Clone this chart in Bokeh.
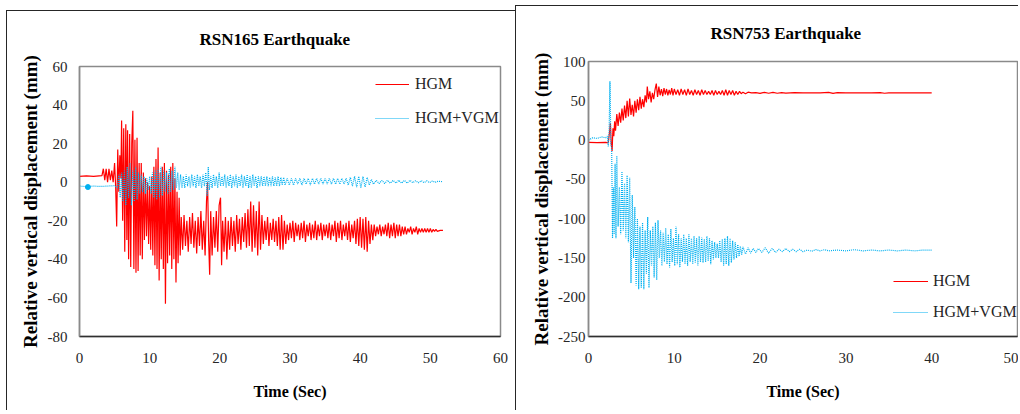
from bokeh.plotting import figure
from bokeh.layouts import row
from bokeh.models import FixedTicker, Legend, LegendItem, PrintfTickFormatter
from bokeh.embed import file_html
from bokeh.resources import INLINE

FONT = "Liberation Serif"
RED = "#ff0000"
BLUE = "#00b0f0"

titles = ["RSN165 Earthquake", "RSN753 Earthquake"]
series_names = ["HGM", "HGM+VGM"]
x_title = "Time (Sec)"
y_title = "Relative vertical displacement (mm)"

x_ticks_165 = [0, 10, 20, 30, 40, 50, 60]
y_ticks_165 = [-80, -60, -40, -20, 0, 20, 40, 60]
x_ticks_753 = [0, 10, 20, 30, 40, 50]
y_ticks_753 = [-250, -200, -150, -100, -50, 0, 50, 100]

# RSN165 - HGM (time s, displacement mm)
rsn165_hgm = [
    (0, 3.0), (1, 3.3), (2, 3.0), (3.2, 3.4),
    (3.4, 7), (3.6, 1), (3.8, 7), (4.0, 0), (4.2, 7), (4.4, 1), (4.6, 6), (4.8, 0), (5.0, 10),
    (5.15, -2), (5.3, -23), (5.45, 17), (5.6, -5), (5.75, 14), (5.9, 2),
    (6.0, 32), (6.15, -20), (6.3, 28), (6.45, -36), (6.6, 30), (6.75, -30), (6.85, 27), (7.0, -40),
    (7.15, 25), (7.3, -44), (7.45, 20), (7.6, 37), (7.75, -45), (7.9, 22), (8.05, -47), (8.2, 23),
    (8.35, -46), (8.5, 10), (8.65, -38), (8.8, 10), (8.95, -40),
    (9.1, 5), (9.25, -30), (9.4, 2), (9.55, -28), (9.7, 0), (9.85, -32), (10.0, -2), (10.15, -35),
    (10.3, 3), (10.45, -38), (10.6, 8), (10.75, -43), (10.9, 12), (11.05, -45), (11.2, 18),
    (11.35, -51), (11.5, 5), (11.65, -40), (11.8, 8), (11.95, -45),
    (12.1, 10), (12.25, -63), (12.4, 6), (12.55, -42), (12.7, 4), (12.85, -38), (13.0, 8),
    (13.15, -45), (13.3, 10), (13.45, -40), (13.6, 2), (13.75, -52), (13.9, -5), (14.05, -42),
    (14.2, -8), (14.35, -38),
    (14.5, -18), (14.7, -35), (14.9, -17), (15.1, -33), (15.3, -20), (15.5, -36), (15.7, -18),
    (15.9, -32), (16.1, -16), (16.3, -34), (16.5, -20), (16.7, -37), (16.9, -18), (17.1, -33),
    (17.3, -15), (17.5, -35), (17.7, -20), (17.9, -38), (18.1, -10), (18.25, 0), (18.4, -30),
    (18.55, -48), (18.7, -15), (18.9, -38), (19.1, -18), (19.3, -34), (19.5, -15), (19.7, -36),
    (19.9, -12), (20.1, -8), (20.25, -43), (20.4, -20), (20.6, -36), (20.8, -18), (21.0, -40),
    (21.2, -20), (21.4, -35), (21.6, -18), (21.8, -33), (22.0, -20), (22.2, -36), (22.4, -17),
    (22.6, -32), (22.8, -19), (23.0, -35), (23.2, -18), (23.4, -31), (23.6, -16), (23.8, -34),
    (24.0, -14), (24.2, -33), (24.4, -10), (24.6, -36), (24.8, -12), (25.0, -34), (25.2, -15),
    (25.4, -38), (25.6, -10), (25.8, -35), (26.0, -17), (26.2, -32), (26.4, -20), (26.6, -30),
    (26.8, -18), (27.0, -33), (27.2, -21), (27.4, -30), (27.6, -19), (27.8, -31), (28.0, -20),
    (28.2, -33), (28.4, -18), (28.6, -35), (28.8, -17), (29.0, -35), (29.2, -20), (29.4, -32),
    (29.6, -22), (29.8, -30), (30.0, -21), (30.2, -29), (30.4, -20), (30.6, -31), (30.8, -21),
    (31.0, -28), (31.2, -22), (31.4, -30), (31.6, -21), (31.8, -29), (32.0, -20), (32.2, -31),
    (32.4, -22), (32.6, -28), (32.8, -21), (33.0, -30), (33.2, -22), (33.4, -29), (33.6, -20),
    (33.8, -30), (34.0, -22), (34.2, -28), (34.4, -21), (34.6, -30), (34.8, -22), (35.0, -28),
    (35.2, -22), (35.4, -29), (35.6, -21), (35.8, -30), (36.0, -22), (36.2, -28), (36.4, -20),
    (36.6, -31), (36.8, -21), (37.0, -29), (37.2, -20), (37.4, -30), (37.6, -22), (37.8, -28),
    (38.0, -21), (38.2, -30), (38.4, -20), (38.6, -31), (38.8, -22), (39.0, -29), (39.2, -20),
    (39.4, -32), (39.6, -19), (39.8, -33), (40.0, -18), (40.2, -34), (40.4, -19), (40.6, -35),
    (40.8, -18), (41.0, -36), (41.2, -20), (41.4, -32), (41.6, -22), (41.8, -30), (42.0, -22),
    (42.2, -28), (42.4, -23), (42.6, -27), (42.8, -22), (43.0, -28), (43.2, -23), (43.4, -27),
    (43.6, -22), (43.8, -28), (44.0, -21), (44.2, -29), (44.4, -22), (44.6, -28), (44.8, -21),
    (45.0, -29), (45.2, -22), (45.4, -28), (45.6, -22), (45.8, -28), (46.0, -23), (46.2, -27),
    (46.4, -23), (46.6, -27), (46.8, -24), (47.0, -26), (47.2, -23), (47.4, -27), (47.6, -24),
    (47.8, -26), (48.0, -23), (48.2, -27), (48.4, -24), (48.6, -26), (48.8, -24), (49.0, -26),
    (49.2, -24), (49.4, -26), (49.6, -24), (49.8, -26), (50.0, -24), (50.2, -26), (50.4, -24.5),
    (50.6, -25.5), (50.8, -24.5), (51.0, -25.5), (51.4, -25), (51.8, -25),
]

# RSN165 - HGM+VGM
rsn165_hgm_vgm = [
    (0, -2.0), (1, -2.3), (2, -2.0), (3, -2.2), (4, -2.0), (5, -1.8),
    (5.4, -3), (5.6, 4), (5.8, -8), (6.0, 5), (6.2, -10), (6.4, 6), (6.6, -12), (6.8, 8),
    (7.0, -8), (7.2, 10), (7.4, -12), (7.6, 6), (7.8, -10), (8.0, 8), (8.2, -9), (8.4, 5),
    (8.6, -6), (8.8, 4), (9.0, -5), (9.2, 3), (9.4, -6), (9.6, 2), (9.8, -4), (10.0, 3),
    (10.2, -6), (10.4, 5), (10.6, -8), (10.8, 6), (11.0, -9), (11.2, 7), (11.4, -8), (11.6, 8),
    (11.8, -7), (12.0, 6), (12.2, -5), (12.4, 5), (12.6, -6), (12.8, 7), (13.0, -5), (13.2, 6),
    (13.4, -4), (13.6, 8), (13.8, -3), (14.0, 5), (14.2, -4), (14.4, 4), (14.6, -3), (14.8, 3),
    (15.0, -3), (15.2, 4), (15.4, -2), (15.6, 3), (15.8, -3), (16.0, 4), (16.2, -2), (16.4, 3),
    (16.6, -3), (16.8, 4), (17.0, -2), (17.2, 3), (17.4, -3), (17.6, 4), (17.8, -2), (18.0, 5),
    (18.2, -7), (18.35, 8), (18.5, -4), (18.7, 3), (18.9, -3), (19.1, 4), (19.3, -2), (19.5, 3),
    (19.7, -3), (19.9, 5), (20.1, -2), (20.3, 3), (20.5, -2), (20.7, 4), (20.9, -3), (21.1, 3),
    (21.3, -2), (21.5, 4), (21.7, -3), (21.9, 3), (22.1, -2), (22.3, 4), (22.5, -3), (22.7, 3),
    (22.9, -2), (23.1, 4), (23.3, -3), (23.5, 3), (23.7, -2), (23.9, 4), (24.1, -3), (24.3, 3),
    (24.5, -3), (24.7, 4), (24.9, -2), (25.1, 3), (25.3, -3), (25.5, 3), (25.7, -2), (25.9, 3),
    (26.1, -2), (26.3, 3), (26.5, -2), (26.7, 3), (26.9, -2), (27.1, 2.5), (27.3, -2), (27.5, 3),
    (27.7, -2), (27.9, 2.5), (28.1, -2), (28.3, 3), (28.5, -2), (28.7, 2.5), (28.9, -1.5),
    (29.1, 2.5), (29.3, -1.5), (29.6, 2), (29.9, -1.5), (30.2, 2), (30.5, -1.5), (30.8, 2),
    (31.1, -1), (31.4, 2), (31.7, -1.5), (32.0, 2), (32.3, -1), (32.6, 2), (32.9, -1.5),
    (33.2, 2), (33.5, -1), (33.8, 2), (34.1, -1), (34.4, 2), (34.7, -1), (35.0, 2), (35.3, -1),
    (35.6, 2), (35.9, -1), (36.2, 2), (36.5, -1), (36.8, 2), (37.1, -1), (37.4, 2), (37.7, -1),
    (38.0, 2), (38.3, -1.5), (38.6, 2.5), (38.9, -2), (39.2, 3), (39.5, -2.5), (39.8, 3),
    (40.1, -3), (40.4, 3), (40.7, -2.5), (41.0, 2.5), (41.3, -1.5), (41.6, 1.5), (41.9, -1),
    (42.3, 1), (42.7, -0.7), (43.1, 1), (43.5, -0.7), (43.9, 1), (44.3, -0.5), (44.7, 1),
    (45.1, -0.5), (45.5, 1), (45.9, -0.5), (46.3, 1), (46.7, -0.5), (47.1, 1), (47.5, -0.3),
    (47.9, 0.8), (48.3, -0.3), (48.7, 0.8), (49.1, -0.2), (49.5, 0.7), (49.9, -0.2),
    (50.3, 0.6), (50.7, 0), (51.1, 0.5), (51.8, 0.3),
]

rsn165_start_marker = [(1.2, -2.5)]

# RSN753 - HGM
rsn753_hgm = [
    (0, -3.0), (1, -3.2), (2, -3.0), (2.3, -3.5), (2.45, 10), (2.55, 22), (2.65, -5),
    (2.75, -14), (2.85, 15), (2.95, 5), (3.05, 24), (3.15, 12), (3.3, 33), (3.45, 18),
    (3.6, 35), (3.75, 22), (3.9, 40), (4.05, 25), (4.2, 44), (4.35, 28), (4.5, 50), (4.65, 30),
    (4.8, 53), (4.95, 32), (5.1, 45), (5.25, 30), (5.4, 50), (5.55, 35), (5.7, 52), (5.85, 38),
    (6.0, 55), (6.15, 40), (6.3, 52), (6.45, 42), (6.6, 57), (6.75, 48), (6.85, 68), (7.0, 52),
    (7.15, 62), (7.3, 48), (7.45, 60), (7.6, 52), (7.75, 64), (7.9, 72), (8.05, 55), (8.2, 68),
    (8.35, 57), (8.5, 65), (8.65, 56), (8.8, 66), (8.95, 58), (9.1, 65), (9.25, 57), (9.4, 64),
    (9.55, 58), (9.7, 66), (9.85, 57), (10.0, 65), (10.2, 58), (10.4, 64), (10.6, 57),
    (10.8, 65), (11.0, 58), (11.2, 64), (11.4, 57), (11.6, 65), (11.8, 58), (12.0, 63),
    (12.2, 57), (12.4, 64), (12.6, 58), (12.8, 63), (13.0, 57), (13.2, 64), (13.4, 58),
    (13.6, 63), (13.8, 58), (14.0, 62), (14.2, 58), (14.4, 63), (14.6, 57), (14.8, 63),
    (15.0, 58), (15.2, 62), (15.4, 58), (15.6, 63), (15.8, 57), (16.0, 64), (16.2, 57),
    (16.4, 63), (16.6, 58), (16.8, 63), (17.0, 57), (17.2, 62), (17.4, 58), (17.6, 62),
    (17.8, 59), (18.0, 61), (18.3, 59), (18.6, 61), (19.0, 60), (19.5, 60.5), (20.0, 59.5),
    (20.5, 60.8), (21.0, 59.6), (21.5, 60.6), (22.0, 59.6), (22.5, 60.5), (23.0, 59.7),
    (24.0, 60.3), (25.0, 60), (27.0, 60), (28.0, 60.6), (28.5, 59.5), (29.0, 60.4), (30.0, 60),
    (33.0, 60), (34.0, 60.5), (34.5, 59.6), (35.0, 60), (40.0, 60),
]

# RSN753 - HGM+VGM
rsn753_hgm_vgm = [
    (0, 0), (0.5, 3), (1.0, 2), (1.5, 4), (2.0, 3), (2.2, 5), (2.3, -8), (2.4, 10), (2.5, 75),
    (2.6, -5), (2.7, -10), (2.8, -125), (2.9, -60), (3.0, -120), (3.1, -30), (3.2, -125),
    (3.3, -20), (3.45, -110), (3.6, -60), (3.75, -120), (3.9, -40), (4.05, -115), (4.2, -55),
    (4.35, -125), (4.5, -45), (4.65, -130), (4.8, -48), (4.95, -182), (5.1, -70), (5.25, -150),
    (5.4, -85), (5.55, -185), (5.7, -100), (5.85, -190), (6.0, -110), (6.15, -188), (6.3, -105),
    (6.45, -190), (6.6, -115), (6.75, -170), (6.9, -98), (7.05, -188), (7.2, -115), (7.35, -160),
    (7.5, -110), (7.65, -175), (7.8, -105), (7.95, -178), (8.1, -102), (8.25, -150), (8.4, -115),
    (8.55, -160), (8.7, -118), (8.85, -155), (9.0, -112), (9.15, -158), (9.3, -120),
    (9.45, -162), (9.6, -113), (9.75, -155), (9.9, -125), (10.05, -160), (10.2, -110),
    (10.35, -158), (10.5, -120), (10.65, -162), (10.8, -125), (10.95, -155), (11.1, -120),
    (11.25, -158), (11.4, -125), (11.55, -160), (11.7, -120), (11.85, -155), (12.0, -125),
    (12.15, -158), (12.3, -122), (12.45, -156), (12.6, -125), (12.75, -160), (12.9, -122),
    (13.05, -155), (13.2, -124), (13.35, -156), (13.5, -126), (13.65, -155), (13.8, -122),
    (13.95, -154), (14.1, -125), (14.25, -158), (14.4, -128), (14.55, -152), (14.7, -130),
    (14.85, -150), (15.0, -132), (15.15, -150), (15.3, -128), (15.45, -155), (15.6, -126),
    (15.75, -160), (15.9, -125), (16.05, -158), (16.2, -122), (16.35, -160), (16.5, -125),
    (16.65, -156), (16.8, -128), (16.95, -152), (17.1, -130), (17.25, -150), (17.4, -133),
    (17.55, -148), (17.7, -135), (17.85, -146), (18.0, -136), (18.3, -145), (18.6, -137),
    (18.9, -144), (19.2, -138), (19.5, -143), (19.8, -138), (20.2, -143), (20.6, -137),
    (21.0, -144), (21.4, -138), (21.8, -143), (22.2, -139), (22.6, -142), (23.0, -138),
    (23.4, -142), (23.8, -139), (24.2, -142), (24.6, -139), (25.0, -142), (25.5, -140),
    (26.0, -141.5), (26.5, -139.5), (27.0, -141), (27.5, -139.5), (28.0, -141), (29.0, -140),
    (30.0, -141), (31.0, -139.5), (32.0, -141), (33.0, -140), (34.0, -141), (35.0, -140),
    (36.0, -141), (37.0, -140), (38.0, -141), (39.0, -140), (40.0, -140),
]


def split(pairs):
    return [a for a, _ in pairs], [b for _, b in pairs]


def make_panel(title, hgm, hgm_vgm, x_end, y_lo, y_hi, x_ticks, y_ticks,
               width, height, margin, mb, title_offset, title_standoff,
               ytick_standoff, ylabel_standoff, legend_xy, legend_spacing, glyph_w,
               label_standoff):
    p = figure(width=width, height=height, x_range=(0, x_end), y_range=(y_lo, y_hi),
               output_backend="svg", toolbar_location=None, margin=margin,
               min_border_left=mb[0], min_border_right=mb[1],
               min_border_top=mb[2], min_border_bottom=mb[3],
               title=title,
               styles={"box-shadow": "inset 1px 1px 0 0 #262626"})
    p.border_fill_color = None
    p.background_fill_color = "white"
    p.outline_line_color = "#8a8a8a"
    p.outline_line_width = 1.5
    p.xgrid.visible = False
    p.ygrid.visible = False

    p.title.text_font = FONT
    p.title.text_font_size = "17px"
    p.title.text_font_style = "bold"
    p.title.text_color = "black"
    p.title.align = "left"
    p.title.vertical_align = "top"
    p.title.offset = title_offset
    p.title.standoff = title_standoff

    p.xaxis.ticker = FixedTicker(ticks=x_ticks)
    p.yaxis.ticker = FixedTicker(ticks=y_ticks)
    for ax in (p.xaxis[0], p.yaxis[0]):
        ax.formatter = PrintfTickFormatter(format="%d")
        ax.major_tick_in = 0
        ax.major_tick_out = 0
        ax.minor_tick_in = 0
        ax.minor_tick_out = 0
        ax.major_label_text_font = FONT
        ax.major_label_text_font_size = "15px"
        ax.major_label_text_color = "#262626"
        ax.axis_label_text_font = FONT
        ax.axis_label_text_font_style = "bold"
        ax.axis_label_text_color = "black"
    p.xaxis.axis_label = x_title
    p.xaxis.axis_label_text_font_size = "16px"
    p.xaxis.major_label_standoff = 16
    p.xaxis.axis_label_standoff = 17
    p.xaxis.axis_line_color = "#303030"
    p.xaxis.axis_line_width = 1.5
    p.yaxis.axis_label = y_title
    p.yaxis.axis_label_text_font_size = "19px"
    p.yaxis.major_label_standoff = ytick_standoff
    p.yaxis.axis_label_standoff = ylabel_standoff
    p.yaxis.axis_line_color = "#8a8a8a"
    p.yaxis.axis_line_width = 1.5

    t1, v1 = split(hgm)
    t2, v2 = split(hgm_vgm)
    r1 = p.line(t1, v1, line_color=RED, line_width=1.2)
    r2 = p.line(t2, v2, line_color=BLUE, line_width=1.2, line_dash="1 1")

    legend = Legend(
        items=[LegendItem(label=series_names[0], renderers=[r1]),
               LegendItem(label=series_names[1], renderers=[r2])],
        location=legend_xy, orientation="vertical",
        label_text_font=FONT, label_text_font_size="16px", label_text_color="#262626",
        glyph_width=glyph_w, glyph_height=20, label_height=20,
        label_standoff=label_standoff, spacing=legend_spacing,
        padding=0, margin=0, border_line_color=None, background_fill_alpha=0,
    )
    p.add_layout(legend)
    return p


p1 = make_panel(titles[0], rsn165_hgm, rsn165_hgm_vgm, 60, -80, 60,
                x_ticks_165, y_ticks_165, width=509, height=400, margin=(10, 0, 0, 6),
                mb=(73, 15, 54, 73), title_offset=120, title_standoff=32,
                ytick_standoff=12, ylabel_standoff=4, legend_xy=(296, 208),
                legend_spacing=14, glyph_w=34, label_standoff=6)
mt, mv = split(rsn165_start_marker)
p1.scatter(mt, mv, size=5, marker="circle", fill_color=BLUE, line_color=BLUE)

p2 = make_panel(titles[1], rsn753_hgm, rsn753_hgm_vgm, 50, -250, 100,
                x_ticks_753, y_ticks_753, width=503, height=405, margin=(5, 0, 0, 0),
                mb=(73, 1, 56, 74), title_offset=122, title_standoff=33,
                ytick_standoff=3, ylabel_standoff=3, legend_xy=(305, 14),
                legend_spacing=11, glyph_w=35, label_standoff=5)

layout = row(p1, p2, spacing=0)

with open("out.html", "w") as f:
    f.write(file_html(layout, INLINE))
